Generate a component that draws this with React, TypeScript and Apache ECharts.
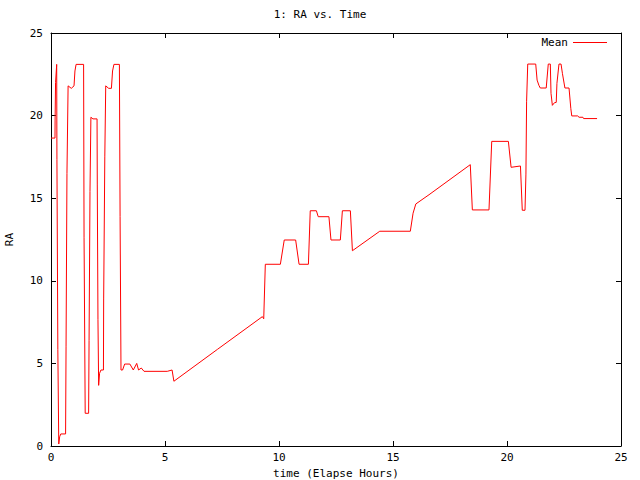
import React, { useEffect, useRef } from "react";
import * as echarts from "echarts";

const hours: number[] = [
  0, 0.175, 0.18, 0.2, 0.25, 0.26, 0.3, 0.34, 0.38, 0.43, 0.64, 0.66, 0.7, 0.75, 0.89, 1.01, 1.05, 1.1, 1.43, 1.45,
  1.5, 1.65, 1.67, 1.71, 1.75, 1.84, 2.02, 2.03, 2.06, 2.09, 2.13, 2.19, 2.3, 2.31, 2.36, 2.4, 2.53, 2.65, 2.7, 2.76,
  3.0, 3.03, 3.07, 3.14, 3.23, 3.46, 3.61, 3.76, 3.84, 3.96, 4.08, 5.1, 5.31, 5.39, 7.3, 9.27, 9.33, 9.4, 10.06, 10.23,
  10.73, 10.88, 11.29, 11.37, 11.64, 11.72, 12.19, 12.28, 12.69, 12.78, 13.13, 13.22, 14.42, 15.76, 15.88, 16.0, 16.58, 18.39, 18.48, 19.21,
  19.33, 20.06, 20.18, 20.59, 20.67, 20.79, 20.83, 20.86, 20.91, 21.26, 21.32, 21.4, 21.46, 21.72, 21.81, 21.9, 21.93, 21.99, 22.08, 22.16,
  22.19, 22.28, 22.37, 22.43, 22.54, 22.72, 22.8, 22.84, 23.1, 23.16, 23.33, 23.36, 23.95,
];

const raMean: number[] = [
  18.64, 18.64, 19.73, 22.0, 23.1, 17.35, 5.85, 0.12, 0.56, 0.73, 0.73, 6.0, 16.5, 21.8, 21.65, 21.8, 22.7, 23.1, 23.1, 12.6,
  1.98, 1.98, 6.4, 15.4, 19.9, 19.8, 19.8, 15.8, 7.67, 3.67, 4.4, 4.6, 4.6, 8.9, 17.5, 21.8, 21.65, 21.65, 22.7, 23.1,
  23.1, 13.9, 4.6, 4.6, 4.96, 4.96, 4.6, 5.0, 4.6, 4.72, 4.52, 4.52, 4.6, 3.92, 5.85, 7.83, 7.7, 11.0, 11.0, 12.47,
  12.47, 11.0, 11.0, 14.24, 14.24, 13.88, 13.88, 12.47, 12.47, 14.24, 14.24, 11.82, 13.0, 13.0, 14.09, 14.65, 15.21, 17.03, 14.29, 14.29,
  18.44, 18.44, 16.87, 16.95, 14.27, 14.27, 16.46, 20.87, 23.12, 23.12, 22.15, 21.83, 21.67, 21.67, 23.12, 23.12, 21.35, 20.62, 20.78, 20.8,
  21.95, 23.12, 23.12, 22.56, 21.67, 21.67, 20.42, 19.98, 19.98, 19.9, 19.9, 19.82, 19.82,
];

const title = "1: RA vs. Time";
const xName = "time (Elapse Hours)";
const yName = "RA";
const seriesName = "Mean";

const FONT = "DejaVu Sans Mono";

export default function App() {
  const ref = useRef<HTMLDivElement>(null);
  useEffect(() => {
    if (!ref.current) return;
    const chart = echarts.init(ref.current, null, { renderer: "svg" });
    const data = hours.map((h, i) => [h, raMean[i]]);
    const txt = { fontFamily: FONT, fontSize: 11, color: "#000" };
    const axisCommon = {
      type: "value" as const,
      min: 0,
      max: 25,
      interval: 5,
      splitLine: { show: false },
      axisLine: { show: true, onZero: false, lineStyle: { color: "#000", width: 1 } },
      axisTick: { show: true, inside: true, length: 5, lineStyle: { color: "#000" } },
    };
    chart.setOption({
      animation: false,
      backgroundColor: "#fff",
      title: {
        text: title,
        left: "center",
        top: 4,
        textStyle: { ...txt, fontWeight: "normal" },
      },
      legend: {
        data: [{ name: seriesName, icon: "rect" }],
        right: 28,
        top: 32,
        align: "right",
        itemWidth: 34,
        itemHeight: 1,
        itemGap: 6,
        textStyle: { ...txt },
      },
      grid: {
        left: 51,
        right: 19,
        top: 33,
        bottom: 34,
        containLabel: false,
        outerBoundsMode: "none",
      },
      xAxis: [
        {
          ...axisCommon,
          position: "bottom",
          name: xName,
          nameLocation: "middle",
          nameGap: 20,
          nameTextStyle: { ...txt },
          axisLabel: { ...txt, margin: 6 },
        },
        {
          ...axisCommon,
          position: "top",
          axisLabel: { show: false },
        },
      ],
      yAxis: [
        {
          ...axisCommon,
          position: "left",
          name: yName,
          nameLocation: "middle",
          nameGap: 36,
          nameRotate: 90,
          nameTextStyle: { ...txt },
          axisLabel: { ...txt, margin: 8 },
        },
        {
          ...axisCommon,
          position: "right",
          axisLabel: { show: false },
        },
      ],
      series: [
        {
          name: seriesName,
          type: "line",
          data,
          showSymbol: false,
          symbol: "none",
          lineStyle: { color: "#ff0000", width: 1 },
          itemStyle: { color: "#ff0000" },
        },
      ],
    });
    return () => chart.dispose();
  }, []);
  return (
    <div
      ref={ref}
      style={{ position: "fixed", left: 0, top: 0, width: 640, height: 480, background: "#fff" }}
    />
  );
}
